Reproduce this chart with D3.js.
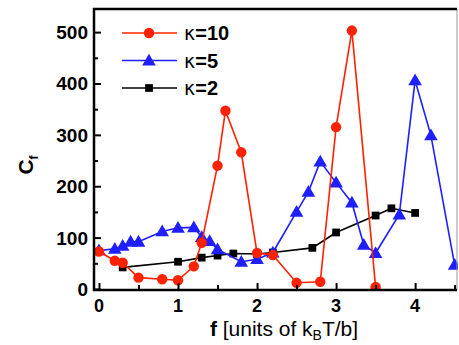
<!DOCTYPE html>
<html>
<head>
<meta charset="utf-8">
<script src="https://cdn.jsdelivr.net/npm/d3@7"></script>
<style>
  body { margin: 0; background: #fff; }
  svg text { font-family: "Liberation Sans", Arial, sans-serif; }
</style>
</head>
<body>
<svg id="chart" width="459" height="345"></svg>
<script>
// kappa = 10
const fRed = [0, 0.2, 0.3, 0.5, 0.8, 1.0, 1.2, 1.3, 1.5, 1.6, 1.8, 2.0, 2.2, 2.5, 2.8, 3.0, 3.2, 3.5];
const cRed = [73, 55, 51, 22, 19, 17, 44, 90, 240, 347, 266, 70, 66, 12, 14, 315, 503, 4];
// kappa = 5
const fBlue = [0, 0.2, 0.3, 0.4, 0.5, 0.8, 1.0, 1.2, 1.3, 1.4, 1.5, 1.8, 2.0, 2.2, 2.5, 2.65, 2.8, 3.0, 3.2, 3.35, 3.5, 3.8, 4.0, 4.2, 4.5];
const cBlue = [75, 78, 84, 92, 92, 112, 119, 120, 101, 93, 77, 53, 58, 71, 150, 189, 248, 207, 168, 86, 70, 145, 406, 299, 47];
// kappa = 2
const fBlack = [0.3, 1.0, 1.3, 1.5, 1.7, 2.0, 2.2, 2.7, 3.0, 3.5, 3.7, 4.0];
const cBlack = [42, 53, 61, 65, 69, 68, 71, 80, 110, 143, 157, 148];

const xTicks = [0, 1, 2, 3, 4];
const yTicks = [0, 100, 200, 300, 400, 500];

const series = [
  { kappa: "10", f: fRed, c: cRed, color: "#ff2200", shape: "circle" },
  { kappa: "5", f: fBlue, c: cBlue, color: "#1f1fff", shape: "triangle" },
  { kappa: "2", f: fBlack, c: cBlack, color: "#000000", shape: "square" }
];

const svg = d3.select("#chart");
const mLeft = 94, mRight = 457, mTop = 9, mBottom = 290;

const x = d3.scaleLinear().domain([-0.063, 4.53]).range([mLeft, mRight]);
const y = d3.scaleLinear().domain([-2, 545]).range([mBottom, mTop]);

svg.append("clipPath").attr("id", "clip")
  .append("rect").attr("x", mLeft).attr("y", mTop).attr("width", mRight - mLeft + 1).attr("height", mBottom - mTop);

// series (drawn in reverse so red sits on top)
const plot = svg.append("g").attr("clip-path", "url(#clip)");
const symbolFor = s => s === "circle" ? d3.symbolCircle : s === "triangle" ? d3.symbolTriangle : d3.symbolSquare;
const sizeFor = s => s === "circle" ? 85 : s === "triangle" ? 80 : 60;

series.slice().reverse().forEach(s => {
  const pts = s.f.map((f, i) => [f, s.c[i]]);
  plot.append("path")
    .datum(pts)
    .attr("fill", "none")
    .attr("stroke", s.color)
    .attr("stroke-width", 1.6)
    .attr("d", d3.line().x(d => x(d[0])).y(d => y(d[1])));
  plot.selectAll(null)
    .data(pts)
    .join("path")
    .attr("transform", d => `translate(${x(d[0])},${y(d[1]) + (s.shape === "triangle" ? 1 : 0)})`)
    .attr("d", d3.symbol(symbolFor(s.shape), sizeFor(s.shape)))
    .attr("fill", s.color);
});

// axes with inward ticks
const xAxis = svg.append("g").attr("transform", `translate(0,${mBottom})`);
xAxis.call(d3.axisBottom(x).tickValues(d3.range(0, 4.51, 0.5)).tickSize(-5).tickFormat(""));
xAxis.selectAll(".tick line").filter(d => Number.isInteger(d)).attr("y2", -7);
xAxis.call(g => g.select(".domain").remove());
xAxis.selectAll(".tick line").attr("stroke-width", 2);
svg.append("g").selectAll("text")
  .data(xTicks)
  .join("text")
  .attr("x", d => x(d))
  .attr("y", mBottom + 22)
  .attr("text-anchor", "middle")
  .attr("font-size", 18)
  .attr("font-weight", "bold")
  .text(d => d);

const yAxis = svg.append("g").attr("transform", `translate(${mLeft},0)`);
yAxis.call(d3.axisLeft(y).tickValues(d3.range(0, 501, 50)).tickSize(-4).tickFormat(""));
yAxis.selectAll(".tick line").filter(d => d % 100 === 0).attr("x2", 7);
yAxis.call(g => g.select(".domain").remove());
yAxis.selectAll(".tick line").attr("stroke-width", 2);
svg.append("g").selectAll("text")
  .data(yTicks)
  .join("text")
  .attr("x", mLeft - 6)
  .attr("y", d => y(d) + 7)
  .attr("text-anchor", "end")
  .attr("font-size", 19)
  .attr("font-weight", "bold")
  .text(d => d);

// frame
svg.append("line").attr("x1", mRight).attr("x2", mRight).attr("y1", mTop).attr("y2", mBottom)
  .attr("stroke", "#999").attr("stroke-width", 1);
svg.append("path")
  .attr("d", `M${mRight},${mTop}H${mLeft}V${mBottom}H${mRight}`)
  .attr("fill", "none").attr("stroke", "#000").attr("stroke-width", 2.5);

// axis titles
const yt = svg.append("text")
  .attr("transform", "translate(33,165) rotate(-90)")
  .attr("text-anchor", "middle")
  .attr("font-size", 21)
  .attr("font-weight", "bold");
yt.append("tspan").text("C");
yt.append("tspan").attr("font-size", 12).attr("dy", 5).text("f");

const xt = svg.append("text")
  .attr("x", 284)
  .attr("y", 336)
  .attr("text-anchor", "middle")
  .attr("font-size", 21);
xt.append("tspan").attr("font-weight", "bold").text("f");
xt.append("tspan").text(" [units of k");
xt.append("tspan").attr("font-size", 14).attr("dy", 4).text("B");
xt.append("tspan").attr("dy", -4).text("T/b]");

// legend
const legend = svg.append("g");
series.forEach((s, i) => {
  const ly = 33 + i * 27.5;
  const g = legend.append("g").attr("transform", `translate(0,${ly})`);
  g.append("line").attr("x1", 122).attr("x2", 177).attr("stroke", s.color).attr("stroke-width", 1.6);
  g.append("path")
    .attr("transform", `translate(149,${s.shape === "triangle" ? 1 : 0})`)
    .attr("d", d3.symbol(symbolFor(s.shape), sizeFor(s.shape)))
    .attr("fill", s.color);
  const t = g.append("text")
    .attr("x", 184)
    .attr("y", 7)
    .attr("font-size", 20);
  t.append("tspan").attr("font-family", "DejaVu Sans").attr("font-size", 19).text("\u03ba");
  t.append("tspan").attr("font-weight", "bold").text("=" + s.kappa);
});
</script>
</body>
</html>
